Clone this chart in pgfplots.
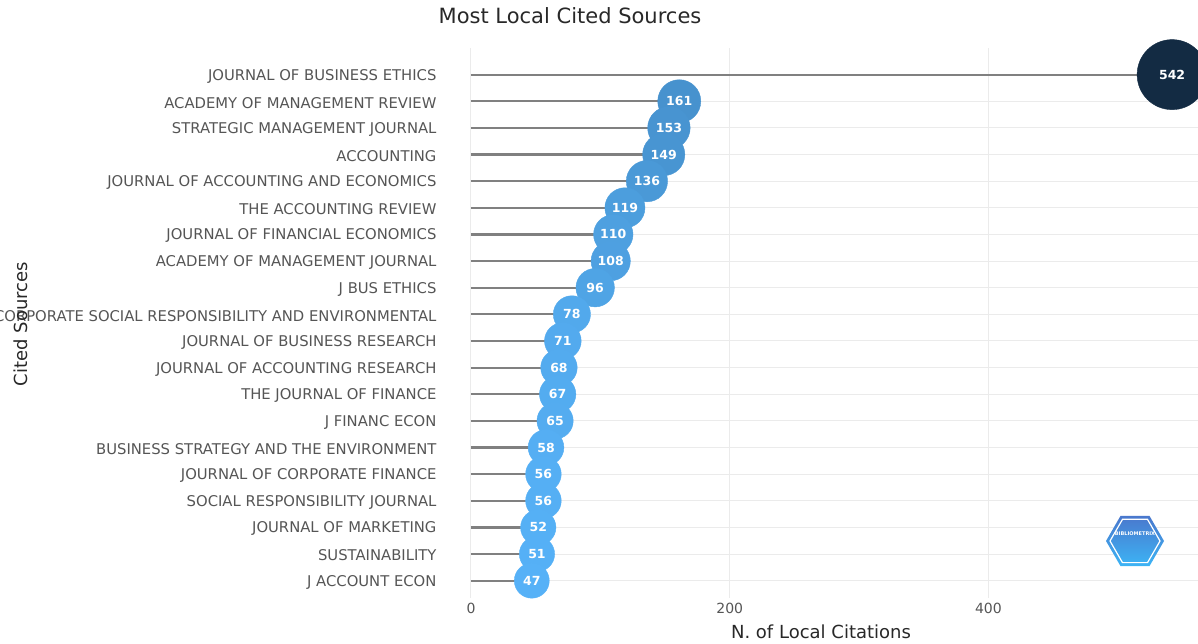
\documentclass[border=0pt]{standalone}
\usepackage{fontspec}
\setmainfont{DejaVu Sans}
\usepackage{pgfplots}
\usepackage{pgfplotstable}
\pgfplotsset{compat=1.18}
\usetikzlibrary{shapes.geometric}

\definecolor{stemgray}{RGB}{128,128,128}
\definecolor{gridgray}{RGB}{235,235,235}
\definecolor{ticktext}{RGB}{85,85,85}
\definecolor{titletext}{RGB}{40,40,40}
% bubble colours: #56B1F7 (low) -> #132B43 (high)
\definecolor{c542}{RGB}{19,43,67}
\definecolor{c161}{RGB}{71,146,206}
\definecolor{c153}{RGB}{72,148,209}
\definecolor{c149}{RGB}{72,149,210}
\definecolor{c136}{RGB}{74,153,215}
\definecolor{c119}{RGB}{76,158,221}
\definecolor{c110}{RGB}{78,160,224}
\definecolor{c108}{RGB}{78,160,225}
\definecolor{c96}{RGB}{79,164,229}
\definecolor{c78}{RGB}{82,169,236}
\definecolor{c71}{RGB}{83,170,238}
\definecolor{c68}{RGB}{83,171,239}
\definecolor{c67}{RGB}{83,172,240}
\definecolor{c65}{RGB}{84,172,240}
\definecolor{c58}{RGB}{85,174,243}
\definecolor{c56}{RGB}{85,175,244}
\definecolor{c52}{RGB}{85,176,245}
\definecolor{c51}{RGB}{85,176,246}
\definecolor{c47}{RGB}{86,177,247}

% rows from top (20) to bottom (1)
\pgfplotstableread{
row val
20 542
19 161
18 153
17 149
16 136
15 119
14 110
13 108
12 96
11 78
10 71
9 68
8 67
7 65
6 58
5 56
4 56
3 52
2 51
1 47
}\sources

\begin{document}
\begin{tikzpicture}
\path[use as bounding box] (-471pt,-46pt) rectangle (727pt,598pt);
\begin{axis}[
    at={(0,0)}, anchor=south west,
    scale only axis,
    width=727pt, height=550pt,
    xmin=0, xmax=562,
    ymin=0.35, ymax=21,
    clip=false,
    axis line style={draw=none},
    major tick length=0pt,
    xtick={0,200,400},
    ytick={1,...,20},
    yticklabels={J ACCOUNT ECON, SUSTAINABILITY, JOURNAL OF MARKETING,
        SOCIAL RESPONSIBILITY JOURNAL, JOURNAL OF CORPORATE FINANCE,
        BUSINESS STRATEGY AND THE ENVIRONMENT, J FINANC ECON,
        THE JOURNAL OF FINANCE, JOURNAL OF ACCOUNTING RESEARCH,
        JOURNAL OF BUSINESS RESEARCH,
        CORPORATE SOCIAL RESPONSIBILITY AND ENVIRONMENTAL,
        J BUS ETHICS, ACADEMY OF MANAGEMENT JOURNAL,
        JOURNAL OF FINANCIAL ECONOMICS, THE ACCOUNTING REVIEW,
        JOURNAL OF ACCOUNTING AND ECONOMICS, ACCOUNTING,
        STRATEGIC MANAGEMENT JOURNAL, ACADEMY OF MANAGEMENT REVIEW,
        JOURNAL OF BUSINESS ETHICS},
    grid=major,
    grid style={gridgray, line width=1pt},
    /pgf/number format/assume math mode=true,
    yticklabel style={font=\fontsize{14.8}{17}\selectfont, text=ticktext, xshift=-31pt, yshift=-1.5pt},
    xticklabel style={font=\fontsize{14}{16}\selectfont, text=ticktext, yshift=-2pt},
    bub/.style 2 args={only marks, mark=*, mark size=#1pt, color=#2,
        nodes near coords, point meta=x,
        every node near coord/.append style={anchor=center, text=white,
            font=\fontsize{12.5}{14}\selectfont\bfseries}},
]
\addplot[xcomb, stemgray, line width=2.2pt, mark=none] table[x=val, y=row] {\sources};
% bubbles, radius 15.84 + 0.0354*value, top row first
\addplot[bub={35.03}{c542}] coordinates {(542,20)};
\addplot[bub={21.54}{c161}] coordinates {(161,19)};
\addplot[bub={21.26}{c153}] coordinates {(153,18)};
\addplot[bub={21.11}{c149}] coordinates {(149,17)};
\addplot[bub={20.65}{c136}] coordinates {(136,16)};
\addplot[bub={20.05}{c119}] coordinates {(119,15)};
\addplot[bub={19.73}{c110}] coordinates {(110,14)};
\addplot[bub={19.66}{c108}] coordinates {(108,13)};
\addplot[bub={19.24}{c96}] coordinates {(96,12)};
\addplot[bub={18.60}{c78}] coordinates {(78,11)};
\addplot[bub={18.35}{c71}] coordinates {(71,10)};
\addplot[bub={18.25}{c68}] coordinates {(68,9)};
\addplot[bub={18.21}{c67}] coordinates {(67,8)};
\addplot[bub={18.14}{c65}] coordinates {(65,7)};
\addplot[bub={17.89}{c58}] coordinates {(58,6)};
\addplot[bub={17.82}{c56}] coordinates {(56,5)};
\addplot[bub={17.82}{c56}] coordinates {(56,4)};
\addplot[bub={17.68}{c52}] coordinates {(52,3)};
\addplot[bub={17.65}{c51}] coordinates {(51,2)};
\addplot[bub={17.50}{c47}] coordinates {(47,1)};
\end{axis}
% titles
\node[font=\fontsize{21}{25}\selectfont, text=titletext] at (99pt,582pt) {Most Local Cited Sources};
\node[font=\fontsize{18}{21}\selectfont, text=titletext] at (350pt,-34pt) {N. of Local Citations};
\node[font=\fontsize{18}{21}\selectfont, text=titletext, rotate=90] at (-450pt,274pt) {Cited Sources};
% logo
\node[regular polygon, regular polygon sides=6, minimum size=58pt, inner sep=0pt,
      top color={rgb,255:red,74;green,120;blue,205}, bottom color={rgb,255:red,60;green,180;blue,245}] at (664pt,57pt) {};
\node[regular polygon, regular polygon sides=6, minimum size=50pt, inner sep=0pt,
      draw=white, line width=1.2pt] at (664pt,57pt) {};
\node[font=\fontsize{5}{6}\selectfont\bfseries, text=white] at (664pt,64pt) {BIBLIOMETRIX};
\end{tikzpicture}
\end{document}
